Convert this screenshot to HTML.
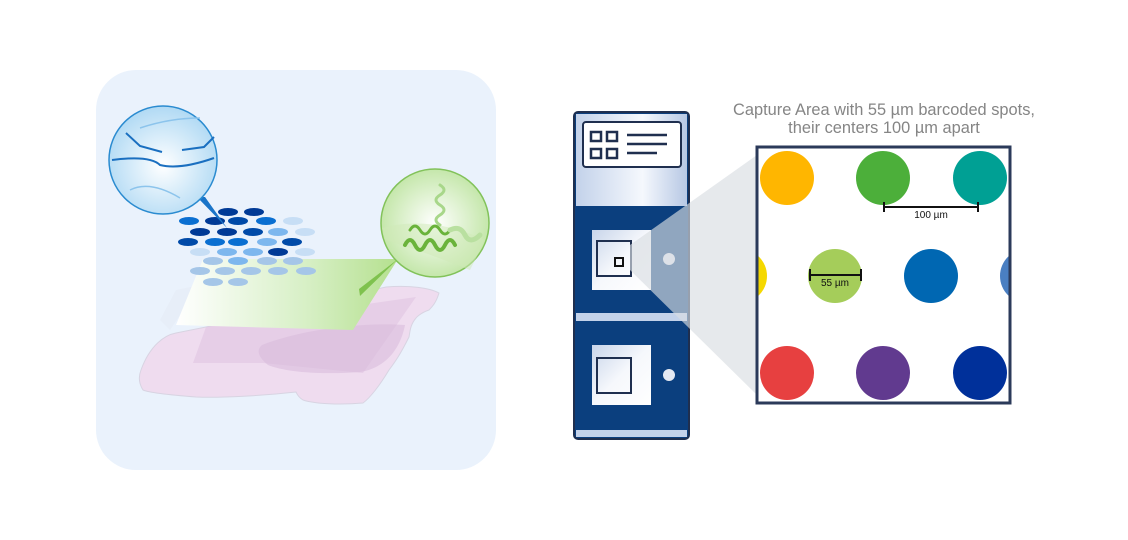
<!DOCTYPE html>
<html><head><meta charset="utf-8"><style>body{margin:0;background:#fff}svg{display:block}</style></head><body>
<svg width="1128" height="540" viewBox="0 0 1128 540" xmlns="http://www.w3.org/2000/svg" font-family="Liberation Sans, sans-serif">
<defs>
<linearGradient id="gs" x1="0" y1="0" x2="1" y2="0"><stop offset="0" stop-color="#ffffff"/><stop offset="0.6" stop-color="#d6efc4"/><stop offset="1" stop-color="#b5e08f"/></linearGradient>
<radialGradient id="bc" cx="0.5" cy="0.55" r="0.6"><stop offset="0" stop-color="#ffffff"/><stop offset="1" stop-color="#a9d6f3"/></radialGradient>
<radialGradient id="gc" cx="0.5" cy="0.5" r="0.6"><stop offset="0" stop-color="#ffffff"/><stop offset="1" stop-color="#b9e29a"/></radialGradient>
<linearGradient id="cab" x1="0" y1="0" x2="1" y2="0"><stop offset="0" stop-color="#c3d2ea"/><stop offset="0.6" stop-color="#f5f8fd"/><stop offset="1" stop-color="#b7c8e4"/></linearGradient>
<linearGradient id="cart" x1="0" y1="0" x2="1" y2="1"><stop offset="0" stop-color="#c8d5ea"/><stop offset="0.5" stop-color="#f6f8fc"/><stop offset="1" stop-color="#ffffff"/></linearGradient>
</defs>
<rect x="96" y="70" width="400" height="400" rx="40" fill="#eaf2fc"/>
<!-- tissue -->
<path d="M141,370 C150,345 165,335 176,333 L206,327 L386,287 C410,285 430,288 439,293 C436,303 432,307 429,310 C420,313 416,318 416,318 C410,325 410,332 409,337 C400,355 395,362 389,370 C380,385 370,398 363,403 C340,405 315,404 303,400 C298,397 297,394 296,392 C260,396 220,398 196,397 C170,395 150,393 143,390 C138,382 139,375 141,370Z" fill="#efdcef" stroke="#d8d4e2"/>
<polygon points="193,363 206,327 416,297 363,373 263,363" fill="#e2c8e4" opacity="0.7"/>
<path d="M262,345 C300,330 360,322 405,325 C400,350 385,368 360,372 C320,375 285,372 268,365 C258,357 256,350 262,345Z" fill="#d8bcdc" opacity="0.6"/>
<polygon points="176,290 200,285 170,330 160,320" fill="#e4ebf5" opacity="0.6"/>
<!-- slide -->
<polygon points="203,259 398,259 353,330 176,325" fill="url(#gs)"/>
<polygon points="359,289 398,259 360,296" fill="#7fc24e"/>
<!-- dots -->
<g>
<ellipse cx="228" cy="212" rx="10" ry="4" fill="#003a96"/><ellipse cx="254" cy="212" rx="10" ry="4" fill="#003a96"/>
<ellipse cx="189" cy="221" rx="10" ry="4" fill="#0a6fd1"/><ellipse cx="215" cy="221" rx="10" ry="4" fill="#003a96"/><ellipse cx="238" cy="221" rx="10" ry="4" fill="#004aa8"/><ellipse cx="266" cy="221" rx="10" ry="4" fill="#0a6fd1"/><ellipse cx="293" cy="221" rx="10" ry="4" fill="#c7def5"/>
<ellipse cx="200" cy="232" rx="10" ry="4" fill="#003a96"/><ellipse cx="227" cy="232" rx="10" ry="4" fill="#003a96"/><ellipse cx="253" cy="232" rx="10" ry="4" fill="#004aa8"/><ellipse cx="278" cy="232" rx="10" ry="4" fill="#7db7ee"/><ellipse cx="305" cy="232" rx="10" ry="4" fill="#c7def5"/>
<ellipse cx="188" cy="242" rx="10" ry="4" fill="#004aa8"/><ellipse cx="215" cy="242" rx="10" ry="4" fill="#0a6fd1"/><ellipse cx="238" cy="242" rx="10" ry="4" fill="#0a6fd1"/><ellipse cx="267" cy="242" rx="10" ry="4" fill="#7db7ee"/><ellipse cx="292" cy="242" rx="10" ry="4" fill="#004aa8"/>
<ellipse cx="200" cy="252" rx="10" ry="4" fill="#c7def5"/><ellipse cx="227" cy="252" rx="10" ry="4" fill="#7db7ee"/><ellipse cx="253" cy="252" rx="10" ry="4" fill="#7db7ee"/><ellipse cx="278" cy="252" rx="10" ry="4" fill="#003a96"/><ellipse cx="305" cy="252" rx="10" ry="4" fill="#c7def5"/>
<ellipse cx="213" cy="261" rx="10" ry="4" fill="#a5c6e8"/><ellipse cx="238" cy="261" rx="10" ry="4" fill="#7db7ee"/><ellipse cx="267" cy="261" rx="10" ry="4" fill="#a5c6e8"/><ellipse cx="293" cy="261" rx="10" ry="4" fill="#a5c6e8"/>
<ellipse cx="200" cy="271" rx="10" ry="4" fill="#a5c6e8"/><ellipse cx="225" cy="271" rx="10" ry="4" fill="#a5c6e8"/><ellipse cx="251" cy="271" rx="10" ry="4" fill="#a5c6e8"/><ellipse cx="278" cy="271" rx="10" ry="4" fill="#a5c6e8"/><ellipse cx="306" cy="271" rx="10" ry="4" fill="#a5c6e8"/>
<ellipse cx="213" cy="282" rx="10" ry="4" fill="#a5c6e8"/><ellipse cx="238" cy="282" rx="10" ry="4" fill="#a5c6e8"/>
</g>
<!-- blue magnifier -->
<polygon points="197,197 205,197 227,228" fill="#1a74c8"/>
<circle cx="163" cy="160" r="54" fill="url(#bc)" stroke="#2a8bd0" stroke-width="1.5"/>
<g stroke="#1a6fc0" stroke-width="2" fill="none">
<path d="M126,133 L140,146 L162,152"/><path d="M182,150 L204,147 L214,137"/>
<path d="M112,160 Q150,155 160,165 Q180,170 214,158"/>
</g>
<g stroke="#8cc4ec" stroke-width="1.5" fill="none">
<path d="M140,128 Q170,118 200,118"/><path d="M130,190 Q150,180 180,198"/>
</g>
<!-- green magnifier -->
<circle cx="435" cy="223" r="54" fill="url(#gc)" stroke="#82c25a" stroke-width="1.5"/>
<path d="M382,228 Q430,215 485,240 L470,270 Q420,250 385,240Z" fill="#cfeab8" opacity="0.5"/>
<g fill="none" stroke-linecap="round">
<path d="M405,245 q5,-10 10,0 q5,10 10,0 q5,-10 10,0 q5,10 10,0 q5,-10 10,0" stroke="#6ab33b" stroke-width="4"/>
<path d="M410,230 q5,-8 10,0 q5,8 10,0 q5,-8 10,0 q5,8 10,0" stroke="#6ab33b" stroke-width="3"/>
<path d="M440,185 q8,5 0,10 q-8,5 0,10 q8,5 0,10 q-8,5 0,10" stroke="#a8d78a" stroke-width="3"/>
<path d="M450,230 q10,-5 15,5 q5,10 15,0" stroke="#b9e0a0" stroke-width="5"/>
</g>
<!-- cabinet -->
<rect x="574" y="112" width="115" height="327" rx="4" fill="#0b3f7e" stroke="#1f2f4f" stroke-width="2"/>
<rect x="576" y="114" width="111" height="92" fill="url(#cab)"/>
<rect x="583" y="122" width="98" height="45" rx="3" fill="#fff" stroke="#1f2f4f" stroke-width="2"/>
<g fill="none" stroke="#1f2f4f" stroke-width="2.5">
<rect x="591" y="132" width="10" height="9"/><rect x="607" y="132" width="10" height="9"/>
<rect x="591" y="149" width="10" height="9"/><rect x="607" y="149" width="10" height="9"/>
<path d="M627,135h40M627,144h40M627,153h30"/>
</g>
<rect x="576" y="313" width="111" height="8" fill="#c3d2ea"/>
<rect x="576" y="430" width="111" height="7" fill="#c3d2ea"/>
<rect x="592" y="230" width="59" height="60" fill="url(#cart)"/>
<rect x="597" y="241" width="34" height="35" fill="none" stroke="#1f2f4f" stroke-width="2"/>
<rect x="615" y="258" width="8" height="8" fill="none" stroke="#111" stroke-width="2"/>
<rect x="592" y="345" width="59" height="60" fill="url(#cart)"/>
<rect x="597" y="358" width="34" height="35" fill="none" stroke="#1f2f4f" stroke-width="2"/>
<circle cx="669" cy="259" r="6" fill="#e4e9f2"/><circle cx="669" cy="375" r="6" fill="#e4e9f2"/>
<!-- cone -->
<polygon points="630,245 757,155 757,395 630,270" fill="#d9dde2" opacity="0.65"/>
<!-- capture area -->
<rect x="757" y="147" width="253" height="256" fill="#fff" stroke="#2b3a5a" stroke-width="3"/>
<clipPath id="cp"><rect x="758.5" y="148.5" width="250" height="253"/></clipPath>
<g clip-path="url(#cp)">
<circle cx="787" cy="178" r="27" fill="#ffb600"/><circle cx="883" cy="178" r="27" fill="#4caf3a"/><circle cx="980" cy="178" r="27" fill="#00a094"/>
<circle cx="740" cy="276" r="27" fill="#f5d800"/><circle cx="835" cy="276" r="27" fill="#a5cd5a"/><circle cx="931" cy="276" r="27" fill="#0067b2"/><circle cx="1027" cy="276" r="27" fill="#4a7fc2"/>
<circle cx="787" cy="373" r="27" fill="#e74040"/><circle cx="883" cy="373" r="27" fill="#613a8f"/><circle cx="980" cy="373" r="27" fill="#00309a"/>
</g>
<g stroke="#111" stroke-width="2">
<path d="M884,207h94M884,202v10M978,202v10"/>
<path d="M810,275h51M810,269v12M861,269v12"/>
</g>
<text x="931" y="218" font-size="10" text-anchor="middle" fill="#111">100 µm</text>
<text x="835" y="286" font-size="10" text-anchor="middle" fill="#111">55 µm</text>
<text x="884" y="115" font-size="16.4" text-anchor="middle" fill="#858585">Capture Area with 55 µm barcoded spots,</text>
<text x="884" y="133" font-size="16.4" text-anchor="middle" fill="#858585">their centers 100 µm apart</text>
</svg>
</body></html>
